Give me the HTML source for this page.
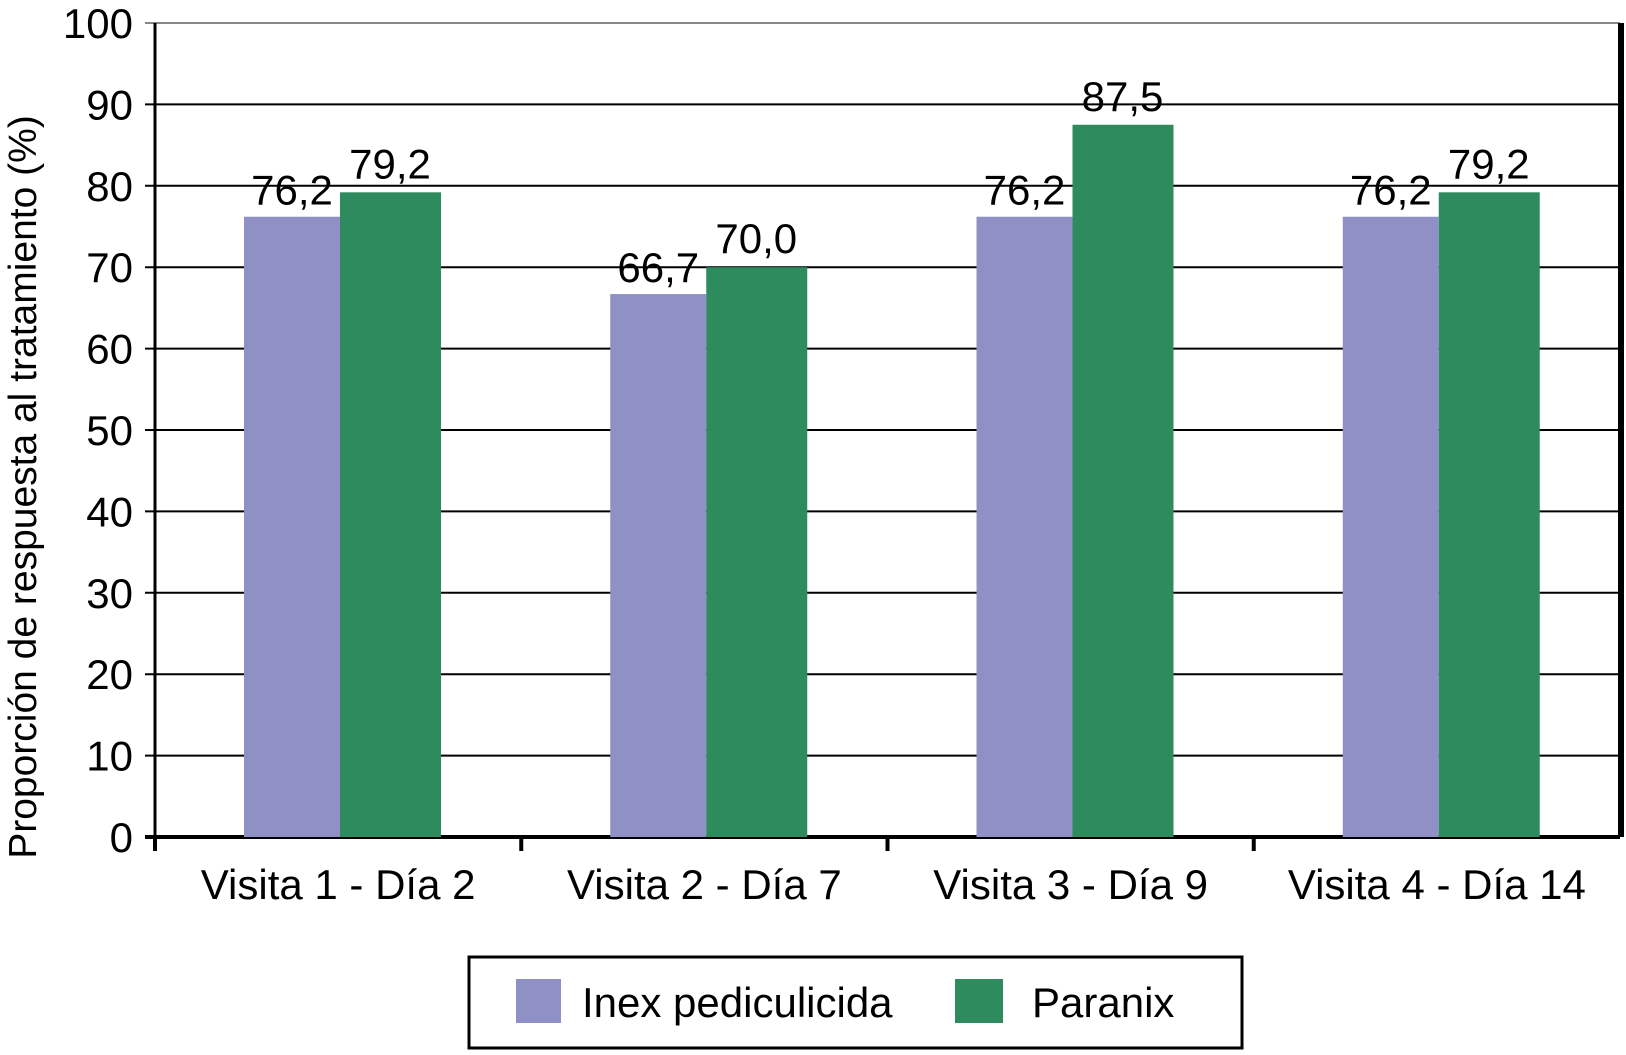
<!DOCTYPE html>
<html><head><meta charset="utf-8"><style>
html,body{margin:0;padding:0;background:#fff;}
svg text{font-family:"Liberation Sans",Arial,sans-serif;fill:#000;}
</style></head><body>
<svg id="chart" width="1626" height="1050" viewBox="0 0 1626 1050" xmlns="http://www.w3.org/2000/svg"></svg>
<script>
const categories = ["Visita 1 - Día 2","Visita 2 - Día 7","Visita 3 - Día 9","Visita 4 - Día 14"];
const inexValues = [76.2, 66.7, 76.2, 76.2];
const paranixValues = [79.2, 70.0, 87.5, 79.2];
const inexLabels = ["76,2","66,7","76,2","76,2"];
const paranixLabels = ["79,2","70,0","87,5","79,2"];
const yTicks = [0,10,20,30,40,50,60,70,80,90,100];

const NS="http://www.w3.org/2000/svg";
const svg=document.getElementById('chart');
const X0=155, X1=1620, Y0=837, Y100=23;
const catW=(X1-X0)/categories.length;
function y(v){return Y0-(v/100)*(Y0-Y100);}
function cx(i){return X0+i*catW;}
function mk(tag,attrs,parent){const e=document.createElementNS(NS,tag);for(const k in attrs)e.setAttribute(k,attrs[k]);(parent||svg).appendChild(e);return e;}

yTicks.forEach(t=>{
  const l=mk('line',{x1:X0-10,x2:X1,y1:y(t),y2:y(t),stroke:t===100?'#888':'#000','stroke-width':t===0?4:2});
  
  
  const tx=mk('text',{x:133,y:y(t)+15,'text-anchor':'end','font-size':42});
  tx.textContent=t;
  
  
});
categories.forEach((c,i)=>{
  const xs=cx(i)+89;
  const b1=mk('rect',{x:xs,y:y(inexValues[i]),width:96,height:Y0-y(inexValues[i]),fill:'#8f91c6'});
  
  
  const b2=mk('rect',{x:xs+96,y:y(paranixValues[i]),width:101,height:Y0-y(paranixValues[i]),fill:'#2e8b5e'});
  
  
  const t1=mk('text',{x:xs+48,y:y(inexValues[i])-12,'text-anchor':'middle','font-size':42});
  t1.textContent=inexLabels[i];
  
  
  const t2=mk('text',{x:xs+96+50,y:y(paranixValues[i])-14,'text-anchor':'middle','font-size':42});
  t2.textContent=paranixLabels[i];
  
  
  const cl=mk('text',{x:cx(i)+catW/2,y:899,'text-anchor':'middle','font-size':42});
  cl.textContent=c;
  
  
  const tk=mk('line',{x1:cx(i),x2:cx(i),y1:Y0,y2:Y0+14,stroke:'#000','stroke-width':4});
  
  
});
const ya=mk('line',{x1:X0,x2:X0,y1:Y100,y2:Y0,stroke:'#000','stroke-width':3});


const ra=mk('line',{x1:X1+1,x2:X1+1,y1:Y100,y2:Y0,stroke:'#000','stroke-width':6});


const yt=mk('text',{x:0,y:0,'text-anchor':'middle','font-size':39,transform:'translate(36,487) rotate(-90)'});
yt.textContent='Proporción de respuesta al tratamiento (%)';


const lg=mk('rect',{x:469,y:957,width:773,height:91,fill:'#fff',stroke:'#000','stroke-width':3});


const s1=mk('rect',{x:516,y:979,width:45,height:44,fill:'#8f91c6'});


const l1=mk('text',{x:582,y:1017,'font-size':42});
l1.textContent='Inex pediculicida';


const s2=mk('rect',{x:955,y:979,width:48,height:44,fill:'#2e8b5e'});


const l2=mk('text',{x:1032,y:1017,'font-size':42});
l2.textContent='Paranix';


</script>
</body></html>
